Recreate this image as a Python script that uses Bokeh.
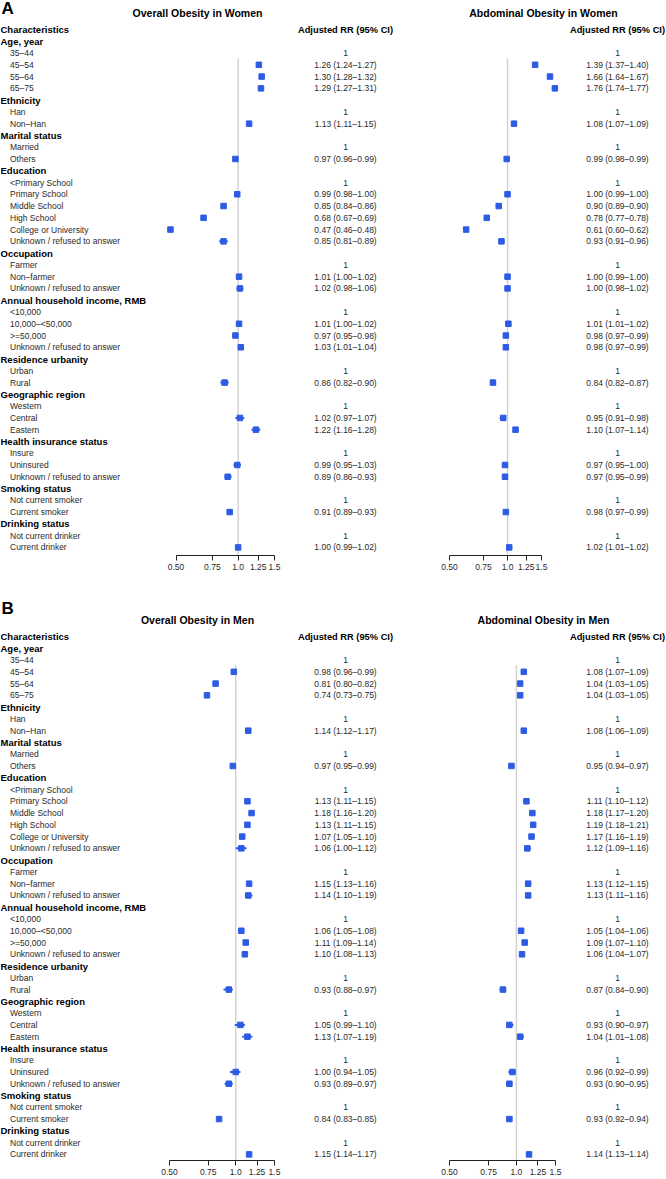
import math
from bokeh.plotting import figure
from bokeh.models import Range1d, LogScale, LogAxis, FixedTicker, ColumnDataSource
from bokeh.layouts import column, row
from bokeh.embed import file_html
from bokeh.resources import INLINE
from bokeh.core.properties import value

# ---------------- data ----------------
groups = ["Age, year", "Ethnicity", "Marital status", "Education", "Occupation",
          "Annual household income, RMB", "Residence urbanity", "Geographic region",
          "Health insurance status", "Smoking status", "Drinking status"]
levels = [
    ["35\u201344", "45\u201354", "55\u201364", "65\u201375"],
    ["Han", "Non\u2013Han"],
    ["Married", "Others"],
    ["<Primary School", "Primary School", "Middle School", "High School",
     "College or University", "Unknown / refused to answer"],
    ["Farmer", "Non\u2013farmer", "Unknown / refused to answer"],
    ["<10,000", "10,000\u2013<50,000", ">=50,000", "Unknown / refused to answer"],
    ["Urban", "Rural"],
    ["Western", "Central", "Eastern"],
    ["Insure", "Uninsured", "Unknown / refused to answer"],
    ["Not current smoker", "Current smoker"],
    ["Not current drinker", "Current drinker"],
]

# non-reference levels, in row order
women_overall_est = [1.26, 1.30, 1.29, 1.13, 0.97, 0.99, 0.85, 0.68, 0.47, 0.85, 1.01, 1.02,
                     1.01, 0.97, 1.03, 0.86, 1.02, 1.22, 0.99, 0.89, 0.91, 1.00]
women_overall_lo = [1.24, 1.28, 1.27, 1.11, 0.96, 0.98, 0.84, 0.67, 0.46, 0.81, 1.00, 0.98,
                    1.00, 0.95, 1.01, 0.82, 0.97, 1.16, 0.95, 0.86, 0.89, 0.99]
women_overall_hi = [1.27, 1.32, 1.31, 1.15, 0.99, 1.00, 0.86, 0.69, 0.48, 0.89, 1.02, 1.06,
                    1.02, 0.98, 1.04, 0.90, 1.07, 1.28, 1.03, 0.93, 0.93, 1.02]

women_abd_est = [1.39, 1.66, 1.76, 1.08, 0.99, 1.00, 0.90, 0.78, 0.61, 0.93, 1.00, 1.00,
                 1.01, 0.98, 0.98, 0.84, 0.95, 1.10, 0.97, 0.97, 0.98, 1.02]
women_abd_lo = [1.37, 1.64, 1.74, 1.07, 0.98, 0.99, 0.89, 0.77, 0.60, 0.91, 0.99, 0.98,
                1.01, 0.97, 0.97, 0.82, 0.91, 1.07, 0.95, 0.95, 0.97, 1.01]
women_abd_hi = [1.40, 1.67, 1.77, 1.09, 0.99, 1.00, 0.90, 0.78, 0.62, 0.96, 1.00, 1.02,
                1.02, 0.99, 0.99, 0.87, 0.98, 1.14, 1.00, 0.99, 0.99, 1.02]

men_overall_est = [0.98, 0.81, 0.74, 1.14, 0.97, 1.13, 1.18, 1.13, 1.07, 1.06, 1.15, 1.14,
                   1.06, 1.11, 1.10, 0.93, 1.05, 1.13, 1.00, 0.93, 0.84, 1.15]
men_overall_lo = [0.96, 0.80, 0.73, 1.12, 0.95, 1.11, 1.16, 1.11, 1.05, 1.00, 1.13, 1.10,
                  1.05, 1.09, 1.08, 0.88, 0.99, 1.07, 0.94, 0.89, 0.83, 1.14]
men_overall_hi = [0.99, 0.82, 0.75, 1.17, 0.99, 1.15, 1.20, 1.15, 1.10, 1.12, 1.16, 1.19,
                  1.08, 1.14, 1.13, 0.97, 1.10, 1.19, 1.05, 0.97, 0.85, 1.17]

men_abd_est = [1.08, 1.04, 1.04, 1.08, 0.95, 1.11, 1.18, 1.19, 1.17, 1.12, 1.13, 1.13,
               1.05, 1.09, 1.06, 0.87, 0.93, 1.04, 0.96, 0.93, 0.93, 1.14]
men_abd_lo = [1.07, 1.03, 1.03, 1.06, 0.94, 1.10, 1.17, 1.18, 1.16, 1.09, 1.12, 1.11,
              1.04, 1.07, 1.04, 0.84, 0.90, 1.01, 0.92, 0.90, 0.92, 1.13]
men_abd_hi = [1.09, 1.05, 1.05, 1.09, 0.97, 1.12, 1.20, 1.21, 1.19, 1.16, 1.15, 1.16,
              1.06, 1.10, 1.07, 0.90, 0.97, 1.08, 0.99, 0.95, 0.94, 1.14]

tick_values = [0.5, 0.75, 1.0, 1.25, 1.5]
tick_labels = ["0.50", "0.75", "1.0", "1.25", "1.5"]

panel_letters = ["A", "B"]
titles_overall = ["Overall Obesity in Women", "Overall Obesity in Men"]
titles_abd = ["Abdominal Obesity in Women", "Abdominal Obesity in Men"]
col_header = "Characteristics"
rr_header = "Adjusted RR (95% CI)"

# ---------------- style / layout ----------------
FONT = "Liberation Sans"
BLUE = "#2d5be3"
TXT = "#2a2a2a"
ROW_H = 11.77
W_L, W_R = 410, 256
SPLIT = W_L
INDENT = 9.5
RR1_X = 345.0
RR2_X = 617.0
TITLE1_X = 197.0
TITLE2_X = 543.0
VLINE_TOP = 2.45

panels = [
    dict(H=598, BOTTOM=43, ROW0=29.0, LETTER_Y=8.0, TITLE_Y=12.0,
         f1=(175.5, 274.0), f2=(449.0, 541.0)),
    dict(H=581, BOTTOM=19, ROW0=38.0, LETTER_Y=10.0, TITLE_Y=21.0,
         f1=(169.0, 274.0), f2=(449.0, 555.0)),
]

# ---------------- rows ----------------
row_labels, row_kinds = [col_header], ["head"]
for g, levs in zip(groups, levels):
    row_labels.append(g)
    row_kinds.append("group")
    for j, lv in enumerate(levs):
        row_labels.append(lv)
        row_kinds.append("ref" if j == 0 else "est")


def series_rows(est, lo, hi):
    ys, e2, l2, h2, texts, tys = [], [], [], [], [rr_header], [0]
    k = 0
    for i, kind in enumerate(row_kinds):
        if kind == "ref":
            texts.append("1")
            tys.append(i)
        elif kind == "est":
            ys.append(i)
            e2.append(est[k]); l2.append(lo[k]); h2.append(hi[k])
            texts.append(f"{est[k]:.2f} ({lo[k]:.2f}\u2013{hi[k]:.2f})")
            tys.append(i)
            k += 1
    return ys, e2, l2, h2, texts, tys


def put_text(p, xs, ys, texts, size, bold=False, align="left", color=TXT):
    src = ColumnDataSource(dict(x=xs, y=ys, t=texts))
    p.text(x="x", y="y", text="t", source=src, text_font=value(FONT),
           text_font_size=size, text_font_style="bold" if bold else "normal",
           text_align=align, text_baseline="middle", text_color=color)


def make_fig(width, cfg, x05, x15):
    ln_lo = math.log(0.5)
    span = math.log(1.5) - ln_lo
    ppl = (x15 - x05) / span
    a = math.exp(ln_lo - x05 / ppl)
    b = math.exp(ln_lo + (width - x05) / ppl)
    y_top = -cfg["ROW0"] / ROW_H
    y_bot = (cfg["H"] - cfg["BOTTOM"] - cfg["ROW0"]) / ROW_H
    p = figure(width=width, height=cfg["H"], x_range=Range1d(0, width),
               y_range=Range1d(y_bot, y_top),
               extra_x_ranges={"f": Range1d(a, b)}, extra_x_scales={"f": LogScale()},
               x_axis_type=None, y_axis_type=None, toolbar_location=None,
               output_backend="svg", min_border=0, min_border_bottom=cfg["BOTTOM"],
               outline_line_color=None, background_fill_color="white",
               border_fill_color="white")
    return p, y_bot


def add_forest(p, y_bot, est, lo, hi):
    ys, e2, l2, h2, texts, tys = series_rows(est, lo, hi)
    p.segment(x0=[1.0], x1=[1.0], y0=[VLINE_TOP], y1=[y_bot], x_range_name="f",
              line_color="#d3d3d3", line_width=1.5)
    src = ColumnDataSource(dict(y=ys, est=e2, lo=l2, hi=h2))
    p.segment(x0="lo", x1="hi", y0="y", y1="y", source=src, x_range_name="f",
              line_color=BLUE, line_width=2)
    p.scatter(x="est", y="y", source=src, x_range_name="f", marker="square",
              size=5.5, fill_color=BLUE, line_color=BLUE)
    ax = LogAxis(x_range_name="f", ticker=FixedTicker(ticks=tick_values),
                 bounds=(0.5, 1.5),
                 major_label_overrides=dict(zip(tick_values, tick_labels)),
                 major_tick_out=5, major_tick_in=0, minor_tick_out=0, minor_tick_in=0,
                 major_label_standoff=3, axis_line_color="#222222",
                 major_tick_line_color="#222222", axis_line_width=1,
                 major_label_text_font=FONT, major_label_text_font_size="8.5px",
                 major_label_text_color=TXT)
    p.add_layout(ax, "below")
    return texts, tys


series = [
    ((women_overall_est, women_overall_lo, women_overall_hi),
     (women_abd_est, women_abd_lo, women_abd_hi)),
    ((men_overall_est, men_overall_lo, men_overall_hi),
     (men_abd_est, men_abd_lo, men_abd_hi)),
]

rows_out = []
for pi, cfg in enumerate(panels):
    s1, s2 = series[pi]
    # left figure: labels, forest 1, RR column 1
    pl, yb = make_fig(W_L, cfg, cfg["f1"][0], cfg["f1"][1])
    t1, ty1 = add_forest(pl, yb, *s1)
    bold_idx = [i for i, k in enumerate(row_kinds) if k in ("head", "group")]
    reg_idx = [i for i, k in enumerate(row_kinds) if k in ("ref", "est")]
    put_text(pl, [0] * len(bold_idx), bold_idx, [row_labels[i] for i in bold_idx],
             "9.5px", bold=True, color="#000000")
    put_text(pl, [INDENT] * len(reg_idx), reg_idx, [row_labels[i] for i in reg_idx], "8.5px")
    put_text(pl, [RR1_X], [0], [t1[0]], "9.3px", bold=True, align="center", color="#000000")
    put_text(pl, [RR1_X] * (len(t1) - 1), ty1[1:], t1[1:], "8.5px", align="center")
    ty = (cfg["TITLE_Y"] - cfg["ROW0"]) / ROW_H
    ly = (cfg["LETTER_Y"] - cfg["ROW0"]) / ROW_H
    put_text(pl, [TITLE1_X], [ty], [titles_overall[pi]], "10.5px", bold=True,
             align="center", color="#000000")
    put_text(pl, [1], [ly], [panel_letters[pi]], "17px", bold=True, color="#000000")

    # right figure: forest 2, RR column 2
    pr, yb2 = make_fig(W_R, cfg, cfg["f2"][0] - SPLIT, cfg["f2"][1] - SPLIT)
    t2, ty2 = add_forest(pr, yb2, *s2)
    put_text(pr, [RR2_X - SPLIT], [0], [t2[0]], "9.3px", bold=True, align="center",
             color="#000000")
    put_text(pr, [RR2_X - SPLIT] * (len(t2) - 1), ty2[1:], t2[1:], "8.5px", align="center")
    put_text(pr, [TITLE2_X - SPLIT], [ty], [titles_abd[pi]], "10.5px", bold=True,
             align="center", color="#000000")
    rows_out.append(row(pl, pr))

layout = column(*rows_out)
open("out.html", "w").write(file_html(layout, INLINE))
